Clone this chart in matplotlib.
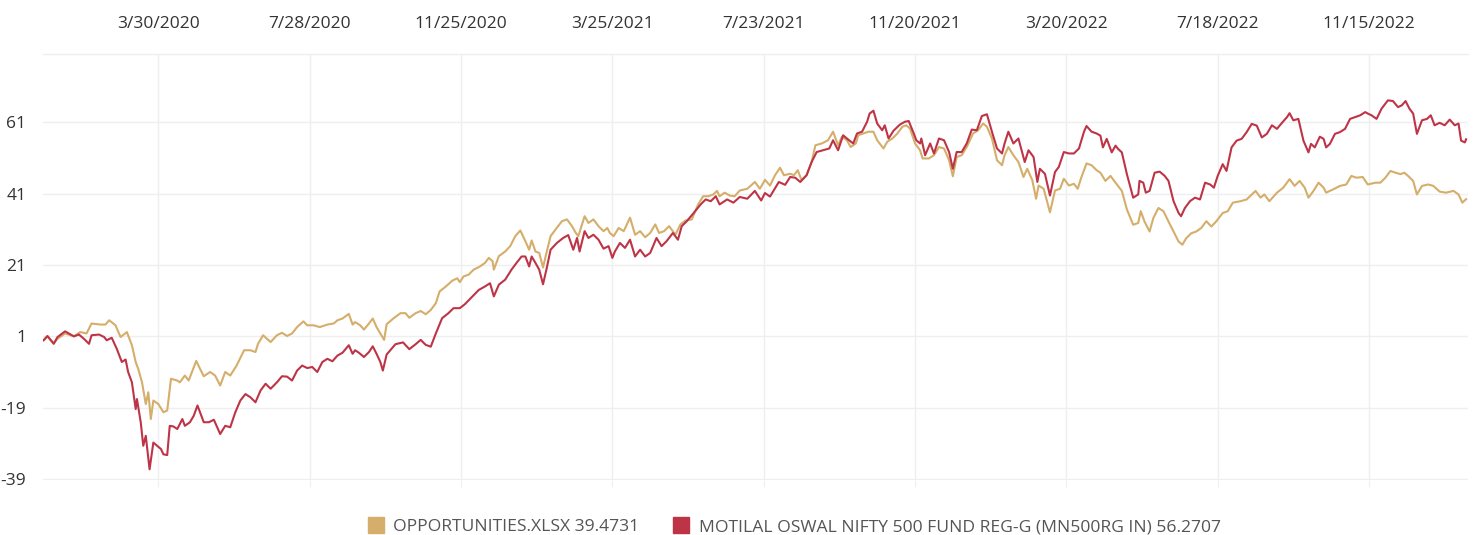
import matplotlib
matplotlib.use("Agg")
import matplotlib.pyplot as plt
from matplotlib.lines import Line2D
import pandas as pd

plt.rcParams['font.family'] = ['Open Sans', 'DejaVu Sans']

START = "2020-01-01"

series_names = ["OPPORTUNITIES.XLSX 39.4731",
                "MOTILAL OSWAL NIFTY 500 FUND REG-G (MN500RG IN) 56.2707"]
series_colors = ["#D4AE6A", "#BE3447"]

# days since START, values (%)
opp_day = [-2, 1, 6, 9, 15, 22, 27, 32, 36, 43, 47, 50, 55, 59, 64, 68, 71, 73, 76, 79, 81, 83, 85, 89, 93, 96,
           99, 104, 106, 110, 113, 119, 122, 125, 130, 134, 138, 142, 146, 151, 157, 162, 166, 168, 172, 178,
           183, 187, 191, 195, 199, 204, 207, 212, 217, 223, 228, 231, 235, 240, 243, 245, 249, 252, 256, 259,
           262, 265, 268, 270, 276, 281, 285, 288, 293, 297, 301, 305, 309, 312, 317, 322, 326, 328, 331, 335,
           339, 344, 348, 351, 354, 355, 359, 364, 368, 372, 376, 380, 383, 385, 388, 391, 394, 397, 400, 404,
           409, 413, 417, 420, 422, 425, 427, 430, 434, 438, 442, 445, 447, 450, 454, 458, 463, 467, 471, 475,
           479, 483, 486, 490, 494, 499, 503, 507, 512, 517, 521, 525, 529, 532, 534, 538, 542, 546, 550, 556,
           562, 566, 570, 574, 578, 582, 585, 590, 593, 596, 599, 603, 607, 610, 615, 620, 624, 628, 631, 635,
           638, 642, 644, 648, 652, 656, 659, 664, 667, 671, 675, 679, 682, 685, 689, 693, 695, 700, 704, 708,
           712, 716, 719, 722, 726, 730, 735, 739, 743, 746, 750, 754, 758, 760, 763, 767, 771, 775, 778, 782,
           785, 787, 791, 796, 800, 804, 807, 811, 815, 818, 821, 825, 829, 833, 836, 840, 844, 848, 853, 857,
           862, 866, 868, 871, 875, 878, 882, 886, 890, 894, 898, 901, 904, 908, 912, 916, 920, 924, 928, 933,
           937, 941, 947, 952, 959, 963, 966, 970, 976, 981, 986, 990, 994, 998, 1001, 1005, 1009, 1013, 1015,
           1021, 1026, 1031, 1035, 1039, 1044, 1048, 1054, 1058, 1062, 1066, 1070, 1074, 1077, 1080, 1084, 1087,
           1091, 1096, 1100, 1105, 1110, 1116, 1120, 1123, 1126]
opp_val = [-0.1, 1.0, -0.9, 0.3, 1.8, 1.0, 2.2, 1.8, 4.6, 4.3, 4.3, 5.5, 4.1, 0.8, 2.2, -1.5, -6.2, -8.1, -11.9,
           -18.0, -14.7, -22.2, -17.0, -18.0, -20.3, -19.8, -10.9, -11.4, -11.9, -10.0, -11.4, -5.9, -8.1,
           -10.2, -9.0, -10.0, -12.8, -9.0, -10.0, -7.2, -2.9, -2.9, -3.4, -1.1, 1.3, -0.6, 1.3, 2.0, 1.1, 1.8,
           3.6, 5.2, 4.1, 4.1, 3.6, 4.3, 4.6, 5.5, 6.0, 7.3, 4.3, 5.0, 4.1, 2.9, 4.6, 6.0, 3.6, 1.8, 0.0, 4.4,
           6.2, 7.5, 7.5, 6.2, 7.5, 8.1, 7.2, 8.4, 10.3, 13.6, 15.0, 16.6, 17.3, 16.2, 17.8, 18.3, 19.7, 20.6,
           21.6, 23.0, 22.1, 19.7, 23.5, 24.8, 26.3, 29.1, 30.7, 27.7, 25.3, 27.9, 24.8, 24.4, 20.3, 24.8,
           29.1, 31.0, 33.3, 33.8, 31.9, 30.0, 29.1, 32.4, 34.7, 32.8, 33.8, 31.9, 30.5, 31.4, 30.0, 29.1,
           31.4, 30.5, 34.3, 29.5, 30.5, 28.8, 30.0, 32.4, 30.0, 30.5, 31.9, 29.5, 32.4, 33.5, 33.8, 38.0,
           40.3, 40.3, 40.8, 41.8, 40.3, 41.3, 40.5, 40.3, 41.9, 42.4, 44.3, 42.4, 44.9, 43.3, 46.2, 48.3,
           46.2, 46.6, 46.2, 47.6, 44.8, 46.2, 49.9, 54.6, 55.1, 56.0, 58.4, 54.6, 57.0, 56.0, 54.1, 55.1,
           57.4, 57.9, 58.4, 58.4, 56.0, 53.7, 55.6, 56.5, 57.9, 59.8, 60.2, 59.3, 55.1, 53.2, 50.9, 50.9,
           51.8, 54.1, 53.7, 50.4, 45.9, 51.3, 51.8, 54.1, 57.9, 58.8, 60.7, 59.8, 56.5, 50.4, 49.0, 51.8,
           54.1, 51.8, 49.9, 45.7, 48.0, 44.8, 39.6, 43.3, 42.4, 35.8, 41.9, 42.4, 45.2, 43.3, 43.8, 42.4,
           45.7, 49.5, 49.0, 47.6, 46.9, 44.6, 46.0, 44.1, 41.8, 36.6, 32.3, 32.8, 36.1, 33.2, 30.4, 34.2,
           37.0, 36.1, 33.2, 30.4, 27.6, 26.7, 28.5, 29.9, 30.4, 31.4, 33.3, 31.8, 33.3, 35.6, 36.1, 38.5,
           38.9, 39.4, 41.8, 39.9, 40.8, 38.9, 41.3, 42.7, 45.1, 43.2, 44.6, 42.7, 39.9, 41.8, 44.1, 42.7,
           41.3, 42.3, 43.2, 43.6, 46.0, 45.5, 45.7, 43.6, 44.1, 44.1, 45.5, 47.4, 46.9, 46.5, 46.9, 46.0,
           44.6, 40.8, 43.2, 43.6, 43.2, 41.6, 41.3, 41.8, 40.8, 38.5, 39.4731]

mos_day = [-2, 1, 6, 9, 15, 22, 26, 30, 34, 36, 42, 46, 48, 52, 56, 60, 63, 65, 68, 71, 72, 75, 77, 79, 82, 85,
           88, 91, 93, 96, 98, 101, 104, 108, 110, 114, 117, 120, 125, 129, 133, 138, 142, 146, 150, 154, 158,
           162, 166, 170, 174, 178, 183, 187, 191, 195, 199, 203, 207, 211, 215, 219, 223, 227, 231, 235, 240,
           243, 245, 248, 252, 256, 259, 262, 265, 267, 270, 277, 283, 288, 293, 297, 301, 305, 309, 314, 319,
           323, 328, 332, 338, 343, 348, 352, 355, 359, 364, 369, 373, 377, 380, 383, 385, 388, 391, 394, 397,
           400, 405, 410, 414, 418, 421, 423, 427, 430, 434, 438, 442, 446, 449, 451, 455, 459, 463, 467, 471,
           475, 479, 484, 488, 492, 497, 501, 504, 508, 513, 519, 523, 527, 531, 534, 540, 545, 550, 556, 562,
           567, 570, 574, 581, 586, 590, 594, 598, 603, 607, 611, 616, 621, 624, 628, 632, 636, 640, 643, 647,
           651, 653, 656, 659, 663, 665, 668, 672, 677, 681, 684, 688, 690, 693, 694, 697, 701, 704, 708, 712,
           716, 719, 722, 726, 730, 734, 738, 742, 746, 750, 754, 758, 760, 763, 767, 771, 776, 779, 783, 786,
           788, 792, 796, 800, 803, 807, 811, 815, 819, 823, 825, 829, 833, 836, 838, 841, 845, 848, 850, 853,
           857, 862, 866, 867, 870, 872, 875, 879, 883, 887, 890, 894, 898, 900, 903, 907, 911, 915, 919, 923,
           926, 929, 933, 936, 940, 944, 948, 952, 956, 960, 964, 968, 972, 976, 980, 984, 986, 989, 993, 997,
           1001, 1003, 1006, 1010, 1013, 1015, 1018, 1022, 1026, 1030, 1034, 1038, 1042, 1046, 1048, 1051,
           1055, 1059, 1064, 1068, 1072, 1075, 1078, 1081, 1084, 1087, 1091, 1095, 1098, 1101, 1105, 1109,
           1113, 1117, 1120, 1122, 1125, 1126]
mos_val = [-0.1, 1.1, -1.1, 0.8, 2.4, 1.0, 1.5, 0.3, -1.1, 1.3, 1.5, 0.8, -0.1, 0.6, -2.5, -6.2, -5.5, -9.0,
           -11.9, -19.4, -16.6, -23.1, -29.7, -26.9, -36.3, -28.8, -29.7, -30.6, -32.1, -32.3, -24.1, -24.3,
           -25.0, -22.2, -24.1, -23.1, -21.3, -18.4, -23.1, -23.1, -22.4, -26.4, -24.1, -24.5, -20.3, -17.0,
           -15.2, -16.1, -17.5, -14.2, -12.3, -13.7, -11.9, -10.2, -10.3, -11.4, -8.6, -7.2, -7.9, -7.6, -9.0,
           -6.2, -5.3, -6.0, -4.4, -3.6, -1.5, -3.9, -2.9, -3.6, -4.8, -3.4, -1.8, -3.9, -6.2, -8.6, -4.1,
           -1.2, -0.7, -2.6, -1.2, 0.0, -1.4, -1.9, 1.8, 6.1, 7.5, 8.9, 8.9, 10.0, 12.2, 14.0, 15.0, 15.9,
           12.2, 15.5, 16.9, 19.7, 21.6, 23.4, 23.4, 20.6, 23.4, 21.6, 19.7, 15.6, 20.2, 25.3, 27.2, 28.6,
           29.4, 25.3, 28.6, 24.8, 30.5, 28.6, 29.5, 28.1, 25.6, 26.3, 23.0, 24.8, 27.2, 25.8, 28.1, 23.4,
           25.3, 23.4, 24.4, 28.6, 26.3, 27.7, 30.0, 28.1, 31.9, 33.3, 35.4, 38.0, 39.4, 38.9, 40.3, 38.0,
           39.4, 38.5, 40.1, 39.6, 41.8, 39.1, 41.2, 40.2, 44.3, 43.5, 45.7, 45.5, 44.3, 46.2, 49.9, 52.7,
           53.2, 53.7, 56.0, 53.2, 57.4, 56.2, 55.1, 57.9, 58.4, 61.2, 63.5, 64.3, 60.7, 58.8, 60.2, 56.5,
           58.7, 60.4, 61.2, 61.4, 57.9, 56.0, 55.1, 56.5, 51.8, 55.1, 52.3, 56.5, 56.0, 52.7, 48.0, 52.7,
           52.7, 55.1, 59.0, 58.8, 62.8, 63.3, 58.4, 53.7, 52.3, 55.1, 58.4, 55.1, 56.5, 49.9, 53.2, 51.3,
           44.3, 48.0, 46.6, 40.5, 47.1, 48.5, 52.7, 52.3, 52.3, 53.7, 58.4, 60.0, 58.4, 57.9, 57.3, 54.0,
           56.4, 52.6, 54.5, 53.6, 52.6, 46.5, 39.9, 40.8, 44.6, 44.1, 41.3, 41.8, 46.9, 47.2, 46.0, 44.6,
           38.9, 35.6, 34.7, 37.0, 38.9, 39.9, 39.4, 44.1, 43.6, 42.7, 46.0, 49.3, 47.4, 54.0, 55.9, 56.4,
           58.3, 60.6, 60.1, 56.8, 57.8, 60.2, 59.2, 60.9, 62.5, 63.6, 61.6, 62.0, 55.9, 52.6, 55.0, 54.0,
           57.0, 56.4, 54.0, 55.0, 57.8, 58.3, 59.2, 62.0, 62.5, 63.0, 63.9, 63.5, 63.0, 62.0, 64.9, 67.2,
           67.0, 65.3, 65.8, 67.0, 64.9, 63.5, 57.8, 61.6, 62.0, 63.0, 60.2, 60.9, 60.2, 61.8, 60.2, 60.7,
           55.9, 55.4, 56.2707]

y_ticks = [-39, -19, 1, 21, 41, 61]
x_tick_labels = ["3/30/2020", "7/28/2020", "11/25/2020", "3/25/2021", "7/23/2021",
                 "11/20/2021", "3/20/2022", "7/18/2022", "11/15/2022"]

start = pd.Timestamp(START)
opp_dates = start + pd.to_timedelta(opp_day, unit="D")
mos_dates = start + pd.to_timedelta(mos_day, unit="D")
tick_dates = pd.to_datetime(x_tick_labels, format="%m/%d/%Y")

W, H = 1477, 535
fig = plt.figure(figsize=(W / 100, H / 100), dpi=100)
ax = fig.add_axes([43 / W, 1 - 480 / H, (1468 - 43) / W, (480 - 54) / H])

ax.plot(opp_dates, opp_val, color=series_colors[0], lw=1.5, zorder=3)
ax.plot(mos_dates, mos_val, color=series_colors[1], lw=1.5, zorder=4)

ax.set_xlim(start + pd.Timedelta(days=-2.5), start + pd.Timedelta(days=1127.5))
ax.set_ylim(-39.3, 80.2)

ax.set_yticks(y_ticks)
ax.set_yticklabels([str(t) for t in y_ticks])
ax.set_xticks(tick_dates)
ax.set_xticklabels(x_tick_labels)

ax.grid(True, color="#EFEFEF", lw=1.0, zorder=0)
ax.set_axisbelow(True)
for s in ["left", "right", "bottom"]:
    ax.spines[s].set_visible(False)
ax.spines["top"].set_color("#EFEFEF")
ax.spines["top"].set_linewidth(1.0)

ax.tick_params(axis="x", which="both", top=False, labeltop=True, bottom=True, labelbottom=False,
               length=5, color="#EFEFEF", labelsize=12.5, labelcolor="#333333", pad=11)
ax.tick_params(axis="y", length=0, labelsize=12.5, labelcolor="#333333", pad=12)

handles = [Line2D([0], [0], marker="s", linestyle="none", markersize=11,
                  markerfacecolor=c, markeredgecolor=c) for c in series_colors]
fig.legend(handles, series_names, loc="center", bbox_to_anchor=(794 / W, 1 - 527 / H), ncol=2,
           frameon=False, fontsize=12.6, labelcolor="#555555", handletextpad=0.5,
           columnspacing=1.9, handlelength=1.0)

fig.savefig("out.png", dpi=100, facecolor="white")
